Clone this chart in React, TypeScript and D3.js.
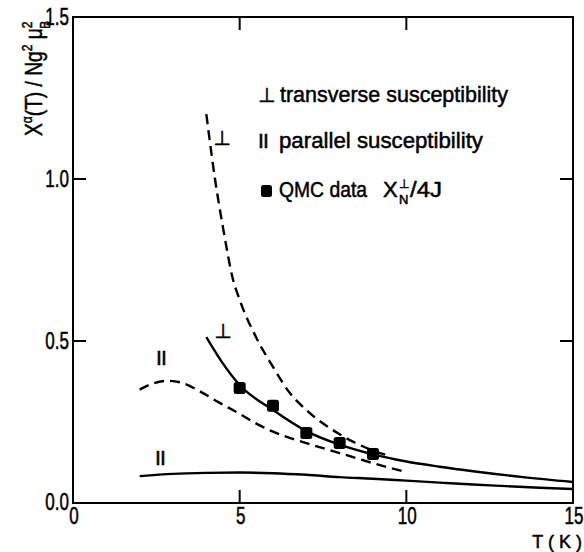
import React from "react";
import * as d3 from "d3";

// dashed transverse curve
const perpDashT = [4.0, 4.26, 4.5, 4.8, 5.0, 5.5, 6.0, 6.5, 7.0, 8.0, 9.0, 9.5];
const perpDashChi = [1.2, 1.0, 0.85, 0.69, 0.627, 0.51, 0.42, 0.34, 0.287, 0.212, 0.162, 0.145];

// dashed parallel curve
const parDashT = [2.0, 2.4, 2.85, 3.3, 3.8, 4.3, 5.0, 5.5, 6.0, 7.0, 8.0, 9.0, 10.0];
const parDashChi = [0.35, 0.369, 0.377, 0.37, 0.345, 0.315, 0.275, 0.245, 0.22, 0.185, 0.154, 0.123, 0.095];

// solid transverse curve
const perpT = [4.0, 4.5, 5.0, 6.0, 7.0, 8.0, 9.0, 10.0, 11.0, 12.0, 13.5, 15.0];
const perpChi = [0.512, 0.43, 0.364, 0.287, 0.222, 0.18, 0.15, 0.128, 0.112, 0.098, 0.08, 0.065];

// solid parallel curve
const parT = [2.0, 3.0, 4.0, 5.0, 6.0, 7.0, 8.0, 9.0, 10.0, 11.0, 12.0, 13.0, 14.0, 15.0];
const parChi = [0.083, 0.09, 0.093, 0.094, 0.092, 0.087, 0.08, 0.075, 0.069, 0.063, 0.057, 0.052, 0.047, 0.043];

// QMC points
const qmcT = [5, 6, 7, 8, 9];
const qmcChi = [0.355, 0.3, 0.216, 0.185, 0.151];

const xTicks = [0, 5, 10, 15];
const yTicks = [0.0, 0.5, 1.0, 1.5];
const xTickLabels = ["0", "5", "10", "15"];
const yTickLabels = ["0.0", "0.5", "1.0", "1.5"];

const W = 584;
const H = 552;
const FONT = "'Liberation Sans', Arial, sans-serif";
const SYM = "'DejaVu Sans', sans-serif";

// narrow lettering: squeeze horizontally
const Narrow = ({ x, y, sx = 0.74, anchor = "start", size = 23, children }: any) => (
  <text transform={`translate(${x},${y}) scale(${sx},1)`} fontSize={size} textAnchor={anchor}>
    {children}
  </text>
);

// symbol glyph (⊥, II) placed with a transform
const Sym = ({ x, y, size = 20, anchor = "middle", ls = 0, children }: any) => (
  <text
    transform={`translate(${x},${y}) scale(1,1.001)`}
    fontFamily={SYM}
    fontSize={size}
    textAnchor={anchor}
    letterSpacing={ls}
  >
    {children}
  </text>
);

const App = () => {
  const x = d3.scaleLinear().domain([0, 15]).range([73, 573]);
  const y = d3.scaleLinear().domain([0, 1.5]).range([503, 17]);

  const line = d3
    .line<[number, number]>()
    .x((d) => x(d[0]))
    .y((d) => y(d[1]))
    .curve(d3.curveMonotoneX);

  const zip = (a: number[], b: number[]) => a.map((v, i) => [v, b[i]] as [number, number]);

  const curves = [
    { pts: zip(perpDashT, perpDashChi), dash: "10,6" },
    { pts: zip(parDashT, parDashChi), dash: "10,6" },
    { pts: zip(perpT, perpChi), dash: null },
    { pts: zip(parT, parChi), dash: null },
  ];

  const [x0, x1] = x.range();
  const [y0, y1] = y.range();
  const tk = 13;

  return (
    <svg width={W} height={H} style={{ position: "absolute", left: 0, top: 0, background: "#fff" }} fontFamily={FONT}>
      {/* frame */}
      <rect x={x0} y={y1} width={x1 - x0} height={y0 - y1} fill="none" stroke="#000" strokeWidth={2} />

      {/* inner ticks */}
      {xTicks.slice(1, -1).map((t) => (
        <g key={"xt" + t} stroke="#000" strokeWidth={2}>
          <line x1={x(t)} x2={x(t)} y1={y0} y2={y0 - tk} />
          <line x1={x(t)} x2={x(t)} y1={y1} y2={y1 + tk} />
        </g>
      ))}
      {yTicks.slice(1, -1).map((t) => (
        <g key={"yt" + t} stroke="#000" strokeWidth={2}>
          <line x1={x0} x2={x0 + tk} y1={y(t)} y2={y(t)} />
          <line x1={x1} x2={x1 - tk} y1={y(t)} y2={y(t)} />
        </g>
      ))}

      {/* curves */}
      {curves.map((c, i) => (
        <path
          key={"c" + i}
          d={line(c.pts) || ""}
          fill="none"
          stroke="#000"
          strokeWidth={2.4}
          strokeDasharray={c.dash || undefined}
        />
      ))}

      {/* QMC points */}
      {qmcT.map((t, i) => (
        <rect key={"q" + t} x={x(t) - 6} y={y(qmcChi[i]) - 6} width={12} height={12} rx={2.5} fill="#000" />
      ))}

      {/* all text, slightly thickened like the original lettering */}
      <g fill="#000" stroke="#000" strokeWidth={0.5}>
        {xTicks.map((t, i) => (
          <Narrow key={"xl" + t} x={i === 3 ? 574 : x(t) + 1} y={524} anchor="middle">
            {xTickLabels[i]}
          </Narrow>
        ))}
        {yTicks.map((t, i) => (
          <Narrow key={"yl" + t} x={69} y={y(t) + (i === 0 ? 7 : 8)} anchor="end">
            {yTickLabels[i]}
          </Narrow>
        ))}

        {/* curve labels */}
        <Sym x={222} y={145}>⊥</Sym>
        <Sym x={223} y={338}>⊥</Sym>
        <Sym x={161} y={365} ls={-1}>II</Sym>
        <Sym x={160} y={465} ls={-1}>II</Sym>

        {/* legend */}
        <g fontSize={22}>
          <Sym x={258} y={102} anchor="start">⊥</Sym>
          <text x={280} y={102} textLength={228} lengthAdjust="spacingAndGlyphs">transverse susceptibility</text>
          <Sym x={258} y={148} anchor="start" ls={-1}>II</Sym>
          <text x={279} y={148} textLength={204} lengthAdjust="spacingAndGlyphs">parallel susceptibility</text>
          <text x={279} y={197} textLength={88} lengthAdjust="spacingAndGlyphs">QMC data</text>
          <text x={383} y={197}>X</text>
          <Sym x={399} y={188} size={12} anchor="start">⊥</Sym>
          <text x={399} y={204} fontSize={13}>N</text>
          <text x={410} y={197} textLength={32} lengthAdjust="spacingAndGlyphs">/4J</text>
        </g>

        {/* y axis label */}
        <text transform="translate(42,136) rotate(-90) scale(0.8,1)" fontSize={24}>
          X<tspan dy={-10} fontSize={15}>α</tspan>
          <tspan dy={10}>(T) / Ng</tspan>
          <tspan dy={-10} fontSize={15}>2</tspan>
          <tspan dy={10}> μ</tspan>
          <tspan dy={-10} fontSize={15}>2</tspan>
          <tspan dx={-9} dy={18} fontSize={15}>B</tspan>
        </text>

        {/* x axis label */}
        <text x={582} y={548} fontSize={18} textAnchor="end">T ( K )</text>
      </g>
      <rect x={261} y={185} width={11} height={12} rx={2.5} fill="#000" />
    </svg>
  );
};

export default App;
